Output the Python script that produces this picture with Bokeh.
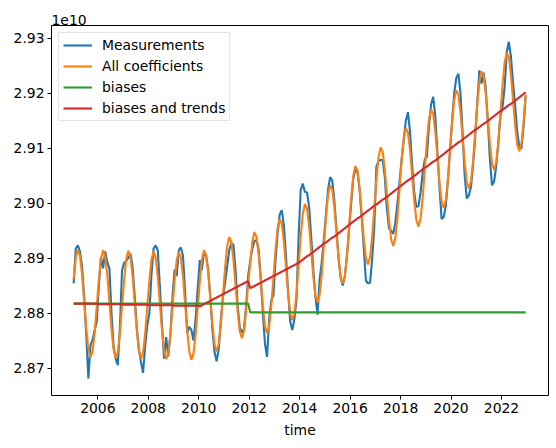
import numpy as np
from bokeh.plotting import figure
from bokeh.models import FixedTicker, PrintfTickFormatter, Title, Range1d
from bokeh.embed import file_html
from bokeh.resources import INLINE

# Monthly series Jan 2005 .. Dec 2022, values in units of 1e10
measurements = (
    [2.8855, 2.8918, 2.8924, 2.8912, 2.8885, 2.8830, 2.8760, 2.8682, 2.8742, 2.8752, 2.8770, 2.8785]   # 2005
    + [2.8852, 2.8903, 2.8882, 2.8913, 2.8893, 2.8882, 2.8800, 2.8740, 2.8718, 2.8706, 2.8775, 2.8878]  # 2006
    + [2.8892, 2.8896, 2.8901, 2.8909, 2.8885, 2.8835, 2.8775, 2.8735, 2.8712, 2.8692, 2.8740, 2.8778]  # 2007
    + [2.8800, 2.8870, 2.8918, 2.8924, 2.8915, 2.8850, 2.8780, 2.8718, 2.8757, 2.8722, 2.8760, 2.8830]  # 2008
    + [2.8880, 2.8868, 2.8915, 2.8920, 2.8905, 2.8840, 2.8764, 2.8776, 2.8770, 2.8751, 2.8790, 2.8845]  # 2009
    + [2.8897, 2.8879, 2.8912, 2.8905, 2.8880, 2.8830, 2.8770, 2.8730, 2.8713, 2.8735, 2.8788, 2.8830]  # 2010
    + [2.8855, 2.8885, 2.8915, 2.8928, 2.8925, 2.8880, 2.8815, 2.8775, 2.8765, 2.8772, 2.8812, 2.8868]  # 2011
    + [2.8897, 2.8918, 2.8932, 2.8933, 2.8915, 2.8865, 2.8800, 2.8745, 2.8721, 2.8790, 2.8824, 2.8833]  # 2012
    + [2.8895, 2.8945, 2.8980, 2.8988, 2.8960, 2.8905, 2.8840, 2.8785, 2.8770, 2.8790, 2.8825, 2.8940]  # 2013
    + [2.9025, 2.9036, 2.9021, 2.9020, 2.8994, 2.8939, 2.8880, 2.8830, 2.8798, 2.8862, 2.8893, 2.8935]  # 2014
    + [2.8980, 2.9025, 2.9048, 2.9042, 2.9005, 2.8955, 2.8900, 2.8865, 2.8851, 2.8868, 2.8905, 2.8952]  # 2015
    + [2.9000, 2.9045, 2.9061, 2.9058, 2.9025, 2.8975, 2.8920, 2.8860, 2.8855, 2.8856, 2.8900, 2.8958]  # 2016
    + [2.9067, 2.9077, 2.9079, 2.9079, 2.9048, 2.8990, 2.8955, 2.8950, 2.8945, 2.8965, 2.9000, 2.9040]  # 2017
    + [2.9080, 2.9115, 2.9150, 2.9166, 2.9130, 2.9070, 2.9020, 2.8994, 2.8995, 2.9020, 2.9055, 2.9080]  # 2018
    + [2.9085, 2.9140, 2.9180, 2.9194, 2.9160, 2.9095, 2.9030, 2.8972, 2.8975, 2.8995, 2.9040, 2.9095]  # 2019
    + [2.9150, 2.9200, 2.9228, 2.9236, 2.9200, 2.9130, 2.9050, 2.9009, 2.9015, 2.9030, 2.9070, 2.9120]  # 2020
    + [2.9185, 2.9242, 2.9218, 2.9238, 2.9210, 2.9150, 2.9080, 2.9033, 2.9040, 2.9068, 2.9110, 2.9160]  # 2021
    + [2.9175, 2.9212, 2.9275, 2.9294, 2.9267, 2.9220, 2.9178, 2.9130, 2.9103, 2.9100, 2.9140, 2.9196]  # 2022
)

all_coefficients = (
    [2.8863, 2.8901, 2.8916, 2.8905, 2.8871, 2.8822, 2.8773, 2.8735, 2.8720, 2.8731, 2.8765, 2.8814]   # 2005
    + [2.8862, 2.8900, 2.8915, 2.8904, 2.8870, 2.8821, 2.8772, 2.8734, 2.8719, 2.8730, 2.8764, 2.8813]  # 2006
    + [2.8861, 2.8899, 2.8914, 2.8903, 2.8869, 2.8820, 2.8771, 2.8733, 2.8718, 2.8729, 2.8763, 2.8812]  # 2007
    + [2.8860, 2.8898, 2.8913, 2.8902, 2.8868, 2.8819, 2.8770, 2.8732, 2.8717, 2.8728, 2.8762, 2.8811]  # 2008
    + [2.8859, 2.8897, 2.8912, 2.8901, 2.8867, 2.8818, 2.8769, 2.8731, 2.8716, 2.8727, 2.8761, 2.8810]  # 2009
    + [2.8858, 2.8898, 2.8915, 2.8906, 2.8874, 2.8827, 2.8780, 2.8744, 2.8731, 2.8744, 2.8780, 2.8831]  # 2010
    + [2.8882, 2.8922, 2.8939, 2.8930, 2.8898, 2.8851, 2.8804, 2.8768, 2.8755, 2.8768, 2.8804, 2.8855]  # 2011
    + [2.8891, 2.8931, 2.8948, 2.8939, 2.8907, 2.8860, 2.8813, 2.8777, 2.8764, 2.8777, 2.8813, 2.8864]  # 2012
    + [2.8915, 2.8955, 2.8972, 2.8963, 2.8931, 2.8884, 2.8837, 2.8801, 2.8788, 2.8801, 2.8837, 2.8888]  # 2013
    + [2.8940, 2.8981, 2.8999, 2.8991, 2.8959, 2.8913, 2.8867, 2.8832, 2.8820, 2.8834, 2.8871, 2.8923]  # 2014
    + [2.8974, 2.9015, 2.9033, 2.9025, 2.8993, 2.8947, 2.8901, 2.8866, 2.8854, 2.8868, 2.8905, 2.8957]  # 2015
    + [2.9009, 2.9050, 2.9068, 2.9060, 2.9028, 2.8982, 2.8936, 2.8901, 2.8889, 2.8903, 2.8940, 2.8992]  # 2016
    + [2.9043, 2.9084, 2.9102, 2.9094, 2.9062, 2.9016, 2.8970, 2.8935, 2.8923, 2.8937, 2.8974, 2.9026]  # 2017
    + [2.9078, 2.9119, 2.9137, 2.9129, 2.9097, 2.9051, 2.9005, 2.8970, 2.8958, 2.8972, 2.9009, 2.9061]  # 2018
    + [2.9112, 2.9153, 2.9171, 2.9163, 2.9131, 2.9085, 2.9039, 2.9004, 2.8992, 2.9006, 2.9043, 2.9095]  # 2019
    + [2.9147, 2.9188, 2.9206, 2.9198, 2.9166, 2.9120, 2.9074, 2.9039, 2.9027, 2.9041, 2.9078, 2.9130]  # 2020
    + [2.9181, 2.9222, 2.9240, 2.9232, 2.9200, 2.9154, 2.9108, 2.9073, 2.9061, 2.9075, 2.9112, 2.9164]  # 2021
    + [2.9215, 2.9256, 2.9274, 2.9266, 2.9234, 2.9188, 2.9142, 2.9107, 2.9095, 2.9109, 2.9146, 2.9198]  # 2022
)

# constant offset before and after the Jan 2012 break
biases = [2.8818] * 84 + [2.8802] * 132

biases_and_trends = (
    [2.8818] * 12 + [2.8817] * 12 + [2.8816] * 12 + [2.8815] * 12 + [2.8814] * 12                        # 2005-2009
    + [2.8813, 2.8815, 2.8817, 2.8819, 2.8821, 2.8823, 2.8825, 2.8827, 2.8829, 2.8831, 2.8833, 2.8835]  # 2010
    + [2.8837, 2.8839, 2.8841, 2.8843, 2.8845, 2.8847, 2.8849, 2.8851, 2.8853, 2.8855, 2.8857, 2.8859]  # 2011
    + [2.8846, 2.8848, 2.8850, 2.8852, 2.8854, 2.8856, 2.8858, 2.8860, 2.8862, 2.8864, 2.8866, 2.8868]  # 2012
    + [2.8870, 2.8872, 2.8874, 2.8876, 2.8878, 2.8880, 2.8882, 2.8884, 2.8886, 2.8888, 2.8890, 2.8892]  # 2013
    + [2.8895, 2.8898, 2.8901, 2.8904, 2.8906, 2.8909, 2.8912, 2.8915, 2.8918, 2.8921, 2.8924, 2.8927]  # 2014
    + [2.8929, 2.8932, 2.8935, 2.8938, 2.8940, 2.8943, 2.8946, 2.8949, 2.8952, 2.8955, 2.8958, 2.8961]  # 2015
    + [2.8964, 2.8967, 2.8970, 2.8973, 2.8975, 2.8978, 2.8981, 2.8984, 2.8987, 2.8990, 2.8993, 2.8996]  # 2016
    + [2.8998, 2.9001, 2.9004, 2.9007, 2.9009, 2.9012, 2.9015, 2.9018, 2.9021, 2.9024, 2.9027, 2.9030]  # 2017
    + [2.9033, 2.9036, 2.9039, 2.9042, 2.9044, 2.9047, 2.9050, 2.9053, 2.9056, 2.9059, 2.9062, 2.9065]  # 2018
    + [2.9067, 2.9070, 2.9073, 2.9076, 2.9078, 2.9081, 2.9084, 2.9087, 2.9090, 2.9093, 2.9096, 2.9099]  # 2019
    + [2.9102, 2.9105, 2.9108, 2.9111, 2.9113, 2.9116, 2.9119, 2.9122, 2.9125, 2.9128, 2.9131, 2.9134]  # 2020
    + [2.9136, 2.9139, 2.9142, 2.9145, 2.9147, 2.9150, 2.9153, 2.9156, 2.9159, 2.9162, 2.9165, 2.9168]  # 2021
    + [2.9170, 2.9173, 2.9176, 2.9179, 2.9181, 2.9184, 2.9187, 2.9190, 2.9193, 2.9196, 2.9199, 2.9202]  # 2022
)

year_ticks = [2006, 2008, 2010, 2012, 2014, 2016, 2018, 2020, 2022]
value_ticks = [2.87, 2.88, 2.89, 2.90, 2.91, 2.92, 2.93]

# mid-month timestamps as decimal years
time = 2005 + (np.arange(len(measurements)) + 0.5) / 12.0

FONT = "DejaVu Sans"
FS = "13.9px"

p = figure(
    width=556, height=448,
    output_backend="svg", toolbar_location=None,
    x_range=Range1d(2004.163, 2023.864),
    y_range=Range1d(2.86509, 2.93236),
    min_border_left=51, min_border_right=8,
    min_border_top=25, min_border_bottom=53,
    background_fill_color="white", border_fill_color="white",
)

# scale factor shown above the value axis
p.add_layout(Title(
    text="1e10", align="left", text_font=FONT, text_font_size=FS,
    text_font_style="normal", text_color="black", standoff=2,
), "above")

series = [
    (measurements, "#1f77b4", "Measurements"),
    (all_coefficients, "#ff7f0e", "All coefficients"),
    (biases, "#2ca02c", "biases"),
    (biases_and_trends, "#d62728", "biases and trends"),
]
for values, color, name in series:
    p.line(time, values, line_color=color, line_width=2.1, legend_label=name)

p.xgrid.visible = False
p.ygrid.visible = False
p.outline_line_color = "black"
p.outline_line_width = 1

p.xaxis.ticker = FixedTicker(ticks=year_ticks)
p.xaxis.formatter = PrintfTickFormatter(format="%d")
p.yaxis.ticker = FixedTicker(ticks=value_ticks)
p.yaxis.formatter = PrintfTickFormatter(format="%.2f")
p.xaxis.axis_label = "time"

for ax in (p.xaxis, p.yaxis):
    ax.axis_line_color = None
    ax.major_tick_line_color = "black"
    ax.major_tick_line_width = 1
    ax.major_tick_out = 4
    ax.major_tick_in = 0
    ax.minor_tick_line_color = None
    ax.major_label_text_font = FONT
    ax.major_label_text_font_size = FS
    ax.major_label_text_color = "black"
    ax.major_label_standoff = 3
p.xaxis.axis_label_text_font = FONT
p.xaxis.axis_label_text_font_size = FS
p.xaxis.axis_label_text_font_style = "normal"
p.xaxis.axis_label_text_color = "black"
p.xaxis.axis_label_standoff = 6

lg = p.legend[0]
lg.location = "top_left"
lg.margin = 7
lg.padding = 4
lg.spacing = 5
lg.glyph_width = 29
lg.glyph_height = 16
lg.label_height = 16
lg.label_standoff = 10
lg.label_text_font = FONT
lg.label_text_font_size = FS
lg.label_text_color = "black"
lg.border_line_color = "#cccccc"
lg.border_line_width = 1
lg.background_fill_color = "white"
lg.background_fill_alpha = 0.8

open("out.html", "w").write(file_html(p, INLINE))
